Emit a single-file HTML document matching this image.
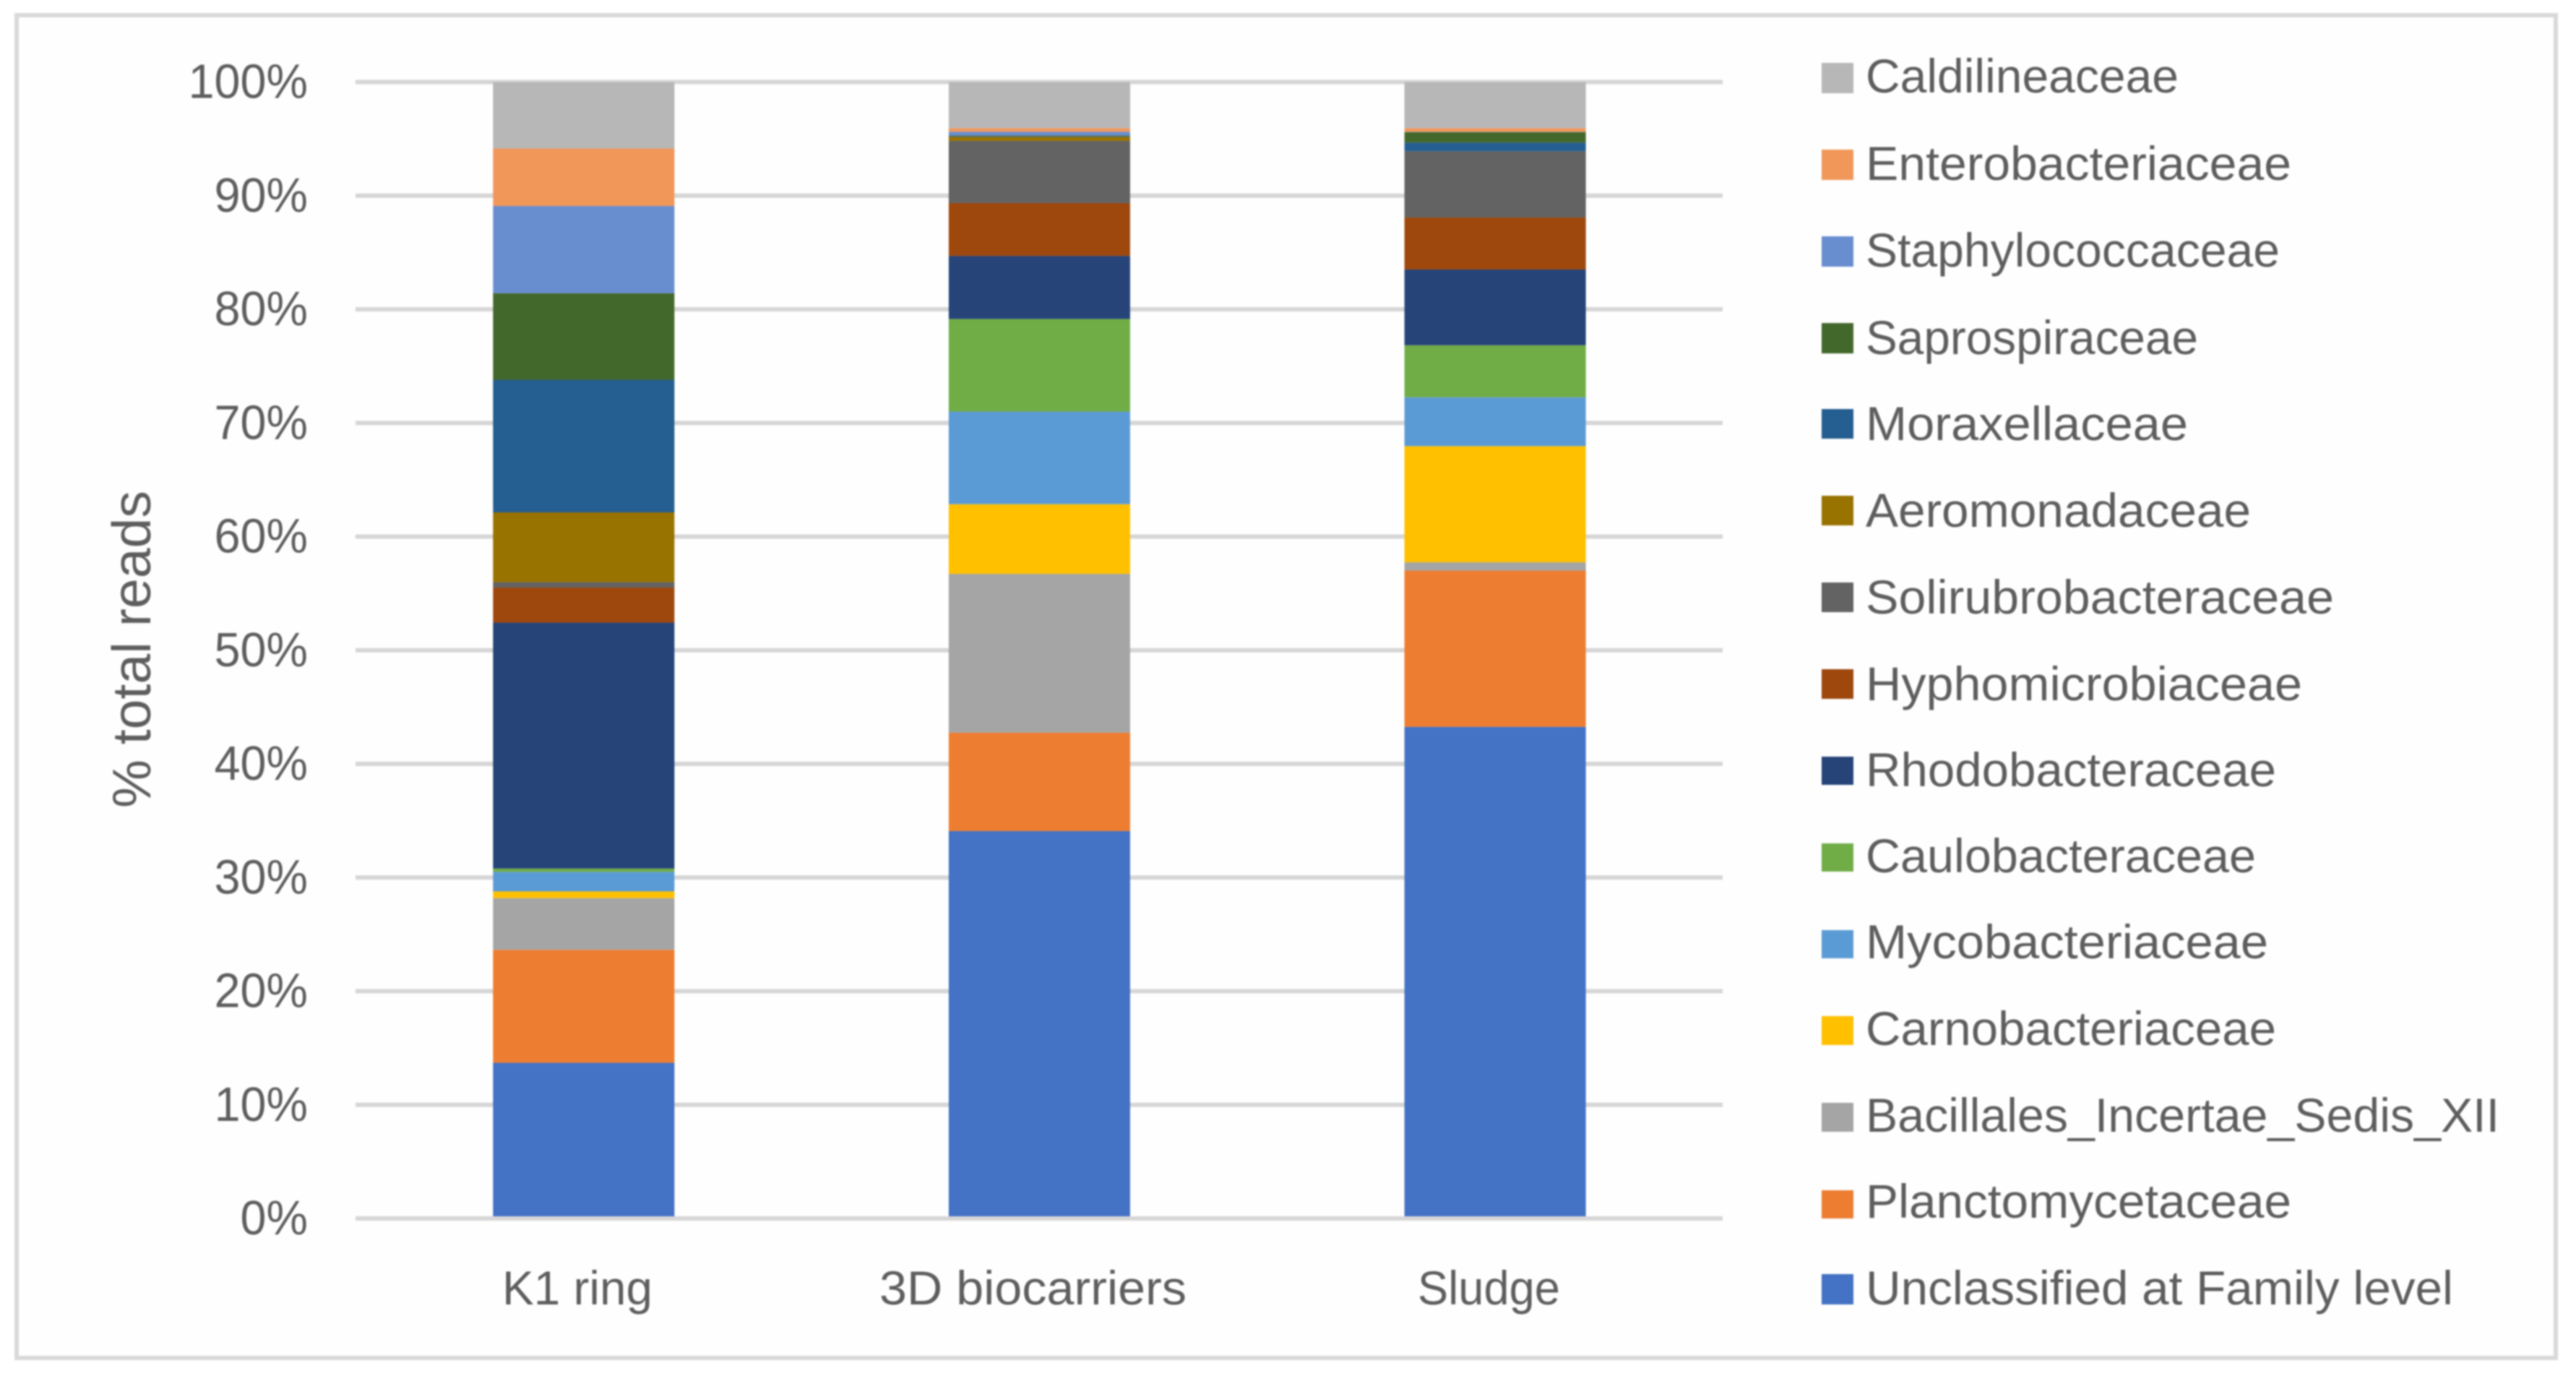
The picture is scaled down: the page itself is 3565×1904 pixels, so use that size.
<!DOCTYPE html>
<html lang="en">
<head>
<meta charset="utf-8">
<title>Family-level composition (% total reads)</title>
<style>
  html,body{margin:0;padding:0;background:#fff;}
  #chart{display:block;width:3565px;height:1904px;filter:blur(1.1px);}
  text{font-family:"Liberation Sans",sans-serif;fill:#5e5e5e;}
  .tick,.cat,.leg{font-size:66px;}
  .tick{font-size:67px;}
  .title{font-size:75px;}
</style>
</head>
<body>
<svg id="chart" xmlns="http://www.w3.org/2000/svg" width="3565" height="1904" viewBox="0 0 3565 1904">
  <rect x="23" y="21" width="3514" height="1858" fill="#fefefe" stroke="#d9d9d9" stroke-width="6"/>
  <g id="grid"></g>
  <g id="bars"></g>
  <g id="zero"></g>
  <g id="yticks"></g>
  <g>
    <text class="cat" x="695" y="1805" textLength="208" lengthAdjust="spacingAndGlyphs">K1 ring</text>
    <text class="cat" x="1217" y="1805" textLength="425" lengthAdjust="spacingAndGlyphs">3D biocarriers</text>
    <text class="cat" x="1962" y="1805" textLength="197" lengthAdjust="spacingAndGlyphs">Sludge</text>
  </g>
  <text class="title" transform="translate(208,1118) rotate(-90)" textLength="439" lengthAdjust="spacingAndGlyphs">% total reads</text>

  <g>
    <g><rect x="2521" y="87" width="44" height="42" fill="#b7b7b7"/><text class="leg" x="2582" y="128" textLength="433" lengthAdjust="spacingAndGlyphs">Caldilineaceae</text></g>
    <g><rect x="2521" y="207" width="44" height="42" fill="#f1975a"/><text class="leg" x="2582" y="249" textLength="589" lengthAdjust="spacingAndGlyphs">Enterobacteriaceae</text></g>
    <g><rect x="2521" y="327" width="44" height="42" fill="#698ed0"/><text class="leg" x="2582" y="369" textLength="573" lengthAdjust="spacingAndGlyphs">Staphylococcaceae</text></g>
    <g><rect x="2521" y="447" width="44" height="42" fill="#43682b"/><text class="leg" x="2582" y="490" textLength="460" lengthAdjust="spacingAndGlyphs">Saprospiraceae</text></g>
    <g><rect x="2521" y="566" width="44" height="41" fill="#255e91"/><text class="leg" x="2582" y="609" textLength="446" lengthAdjust="spacingAndGlyphs">Moraxellaceae</text></g>
    <g><rect x="2521" y="686" width="44" height="41" fill="#997300"/><text class="leg" x="2582" y="729" textLength="533" lengthAdjust="spacingAndGlyphs">Aeromonadaceae</text></g>
    <g><rect x="2521" y="806" width="44" height="41" fill="#636363"/><text class="leg" x="2582" y="849" textLength="648" lengthAdjust="spacingAndGlyphs">Solirubrobacteraceae</text></g>
    <g><rect x="2521" y="926" width="44" height="41" fill="#9e480e"/><text class="leg" x="2582" y="969" textLength="604" lengthAdjust="spacingAndGlyphs">Hyphomicrobiaceae</text></g>
    <g><rect x="2521" y="1047" width="44" height="39" fill="#264478"/><text class="leg" x="2582" y="1088" textLength="568" lengthAdjust="spacingAndGlyphs">Rhodobacteraceae</text></g>
    <g><rect x="2521" y="1167" width="44" height="39" fill="#70ad47"/><text class="leg" x="2582" y="1207" textLength="540" lengthAdjust="spacingAndGlyphs">Caulobacteraceae</text></g>
    <g><rect x="2521" y="1287" width="44" height="39" fill="#5b9bd5"/><text class="leg" x="2582" y="1326" textLength="557" lengthAdjust="spacingAndGlyphs">Mycobacteriaceae</text></g>
    <g><rect x="2521" y="1406" width="44" height="40" fill="#ffc000"/><text class="leg" x="2582" y="1446" textLength="568" lengthAdjust="spacingAndGlyphs">Carnobacteriaceae</text></g>
    <g><rect x="2521" y="1526" width="44" height="40" fill="#a5a5a5"/><text class="leg" x="2582" y="1566" textLength="877" lengthAdjust="spacingAndGlyphs">Bacillales_Incertae_Sedis_XII</text></g>
    <g><rect x="2521" y="1647" width="44" height="39" fill="#ed7d31"/><text class="leg" x="2582" y="1685" textLength="589" lengthAdjust="spacingAndGlyphs">Planctomycetaceae</text></g>
    <g><rect x="2521" y="1763" width="44" height="42" fill="#4472c4"/><text class="leg" x="2582" y="1805" textLength="813" lengthAdjust="spacingAndGlyphs">Unclassified at Family level</text></g>
  </g>
</svg>
<script>
// Categories and tick labels
const categories = ['K1 ring', '3D biocarriers', 'Sludge'];
const yTickValues = [0, 10, 20, 30, 40, 50, 60, 70, 80, 90, 100];

// Series values (% total reads), one per category
const unclassified = [13.7, 34.09, 43.26];
const planctomycetaceae = [9.94, 8.66, 13.75];
const bacillales = [4.55, 13.97, 0.73];
const carnobacteriaceae = [0.59, 6.13, 10.22];
const mycobacteriaceae = [1.72, 8.15, 4.3];
const caulobacteraceae = [0.29, 8.15, 4.58];
const rhodobacteraceae = [21.64, 5.55, 6.66];
const hyphomicrobiaceae = [3.09, 4.65, 4.58];
const solirubrobacteraceae = [0.47, 5.47, 5.83];
const aeromonadaceae = [6.14, 0.36, 0];
const moraxellaceae = [11.67, 0.06, 0.76];
const saprospiraceae = [7.62, 0.06, 0.93];
const staphylococcaceae = [7.67, 0.32, 0.02];
const enterobacteriaceae = [5.06, 0.32, 0.32];
const caldilineaceae = [5.85, 4.06, 4.06];

// Stacking order, bottom to top
const stackedSeries = [unclassified, planctomycetaceae, bacillales, carnobacteriaceae, mycobacteriaceae, caulobacteraceae, rhodobacteraceae, hyphomicrobiaceae, solirubrobacteraceae, aeromonadaceae, moraxellaceae, saprospiraceae, staphylococcaceae, enterobacteriaceae, caldilineaceae];
const seriesNames = ['unclassified', 'planctomycetaceae', 'bacillales', 'carnobacteriaceae', 'mycobacteriaceae', 'caulobacteraceae', 'rhodobacteraceae', 'hyphomicrobiaceae', 'solirubrobacteraceae', 'aeromonadaceae', 'moraxellaceae', 'saprospiraceae', 'staphylococcaceae', 'enterobacteriaceae', 'caldilineaceae'];
const seriesColors = ['#4472c4', '#ed7d31', '#a5a5a5', '#ffc000', '#5b9bd5', '#70ad47', '#264478', '#9e480e', '#636363', '#997300', '#255e91', '#43682b', '#698ed0', '#f1975a', '#b7b7b7'];

const SVGNS = 'http://www.w3.org/2000/svg';
const plotLeft = 492, plotRight = 2384, plotTop = 113.5, plotBottom = 1686;
const bandWidth = (plotRight - plotLeft) / categories.length;
const barWidth = bandWidth * 0.398;

function yScale(v) {
  return plotBottom - (v / 100) * (plotBottom - plotTop);
}
function bandCenter(i) {
  return plotLeft + bandWidth * (i + 0.5);
}
function makeLine(parent, y) {
  const ln = document.createElementNS(SVGNS, 'line');
  ln.setAttribute('x1', plotLeft);
  ln.setAttribute('x2', plotRight);
  ln.setAttribute('y1', y);
  ln.setAttribute('y2', y);
  ln.setAttribute('stroke', '#d6d6d6');
  ln.setAttribute('stroke-width', '6');
  parent.appendChild(ln);
  return ln;
}

const gridGroup = document.getElementById('grid');
const tickGroup = document.getElementById('yticks');
yTickValues.forEach(function (v) {
  const ln = makeLine(gridGroup, yScale(v));
  
  

  const t = document.createElementNS(SVGNS, 'text');
  t.textContent = v + '%';
  t.setAttribute('class', 'tick');
  t.setAttribute('text-anchor', 'end');
  t.setAttribute('x', 426);
  t.setAttribute('y', yScale(v) + 22);
  
  
  tickGroup.appendChild(t);
  t.setAttribute('textLength', (t.getComputedTextLength() * 0.965).toFixed(1));
  t.setAttribute('lengthAdjust', 'spacingAndGlyphs');
});

const barGroup = document.getElementById('bars');
categories.forEach(function (cat, c) {
  let cum = 0;
  stackedSeries.forEach(function (values, s) {
    const v = values[c];
    const r = document.createElementNS(SVGNS, 'rect');
    r.setAttribute('x', bandCenter(c) - barWidth / 2 + 0.5);
    r.setAttribute('width', barWidth);
    r.setAttribute('y', yScale(cum + v));
    r.setAttribute('height', Math.max(0, yScale(cum) - yScale(cum + v)));
    r.setAttribute('fill', seriesColors[s]);
    
    
    barGroup.appendChild(r);
    cum += v;
  });
});

const zeroLine = makeLine(document.getElementById('zero'), yScale(0));


</script>
</body>
</html>
